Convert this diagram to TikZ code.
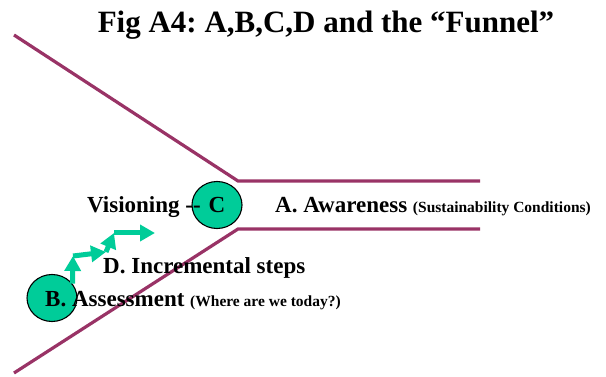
\documentclass[tikz,border=0pt]{standalone}
\usepackage{fontspec}
\setmainfont{Liberation Serif}
\usetikzlibrary{arrows.meta, shapes.geometric}
\definecolor{funnelred}{RGB}{153,51,102}
\definecolor{stepgreen}{RGB}{0,204,153}
\frenchspacing

\begin{document}
\begin{tikzpicture}[x=1pt, y=-1pt,
	funnel/.style={draw=funnelred, line width=3.2pt},
	bubble/.style={ellipse, draw=black, line width=1.1pt, fill=stepgreen, minimum width=50pt, minimum height=47pt, inner sep=0pt},
	bigtext/.style={font=\bfseries\fontsize{23}{26}\selectfont, inner sep=0pt},
	stepline/.style={draw=stepgreen, line width=5pt, -{Triangle[length=15pt, width=16pt]}}]
	\useasboundingbox (0,0) rectangle (606,377);
	% the funnel
	\draw[funnel] (14,35) -- (238,181) -- (480,181);
	\draw[funnel] (14,373) -- (238,229) -- (480,229);
	% the two circles
	\node[bubble, bigtext] (C) at (217,205) {C};
	\node[bubble] (B) at (52,298) {};
	% incremental steps
	\coordinate (s1) at (73,256);
	\coordinate (s2) at (106,252);
	\coordinate (s3) at (114,233);
	\coordinate (s4) at (155,233);
	\foreach \a/\b in {B.35/s1, s1/s2, s2/s3, s3/s4}
		\draw[stepline] (\a) -- (\b);
	% texts
	\node[font=\bfseries\fontsize{31}{34}\selectfont, anchor=base] (title) at (326,33) {Fig A4: A,B,C,D and the “Funnel”};
	\node[bigtext, anchor=base west] (vision) at (87,213) {Visioning -{}-};
	\node[bigtext, anchor=base west] (aware) at (275,213) {A. Awareness {\fontsize{15.5}{18}\selectfont (Sustainability Conditions)}};
	\node[bigtext, anchor=base west] (incr) at (103,273) {D. Incremental steps};
	\node[bigtext, anchor=base west] (assess) at (45,307) {B. Assessment {\fontsize{15.5}{18}\selectfont (Where are we today?)}};
\end{tikzpicture}
\end{document}
